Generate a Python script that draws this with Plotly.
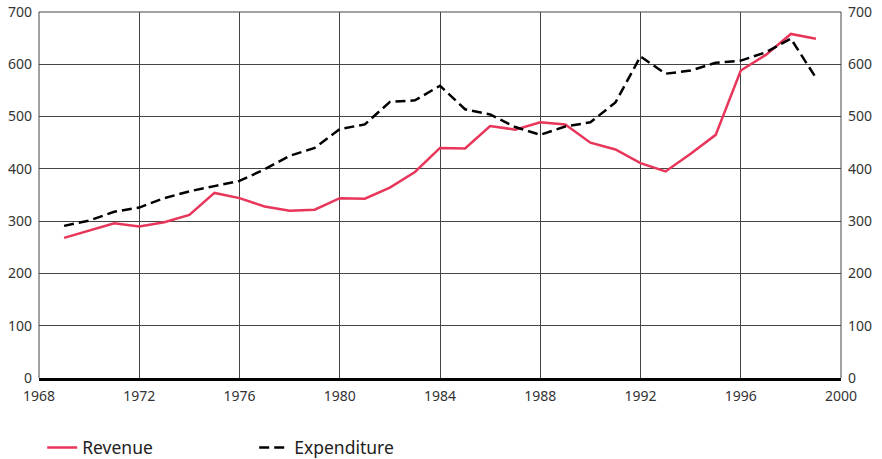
import plotly.graph_objects as go

years = list(range(1969, 2000))
revenue = [268, 282, 296, 290, 298, 312, 354, 344, 328, 320, 322, 344, 343, 364, 394, 440,
           439, 482, 475, 489, 485, 450, 437, 411, 395, 429, 465, 588, 618, 658, 649]
expenditure = [291, 301, 318, 326, 344, 357, 367, 377, 399, 425, 440, 476, 485, 528, 531, 559,
               514, 504, 480, 465, 481, 489, 527, 615, 582, 588, 603, 607, 623, 649, 574]
x_ticks = [1968, 1972, 1976, 1980, 1984, 1988, 1992, 1996, 2000]
y_ticks = [0, 100, 200, 300, 400, 500, 600, 700]

FONT = "Noto Sans"
RED = "#E8365A"
GRID = "#444"
TXT = "#333"

fig = go.Figure()
fig.add_trace(go.Scatter(x=years, y=revenue, mode="lines", name="Revenue",
                         line=dict(color=RED, width=2.5)))
fig.add_trace(go.Scatter(x=years, y=expenditure, mode="lines", name="Expenditure",
                         line=dict(color="black", width=2.5, dash="10px,5px")))
# invisible trace to drive the right axis
fig.add_trace(go.Scatter(x=[x_ticks[0]], y=[y_ticks[0]], yaxis="y2", mode="markers",
                         marker=dict(opacity=0), showlegend=False, hoverinfo="skip"))

# frame lines (top, left, right) of the plotting area
for x0, y0, x1, y1 in [(0, 1, 1, 1), (0, 0, 0, 1), (1, 0, 1, 1)]:
    fig.add_shape(type="line", xref="x domain", yref="y domain", x0=x0, y0=y0, x1=x1, y1=y1,
                  line=dict(color=GRID, width=1), layer="below")

fig.update_layout(
    width=882, height=459,
    margin=dict(l=39, r=41, t=12, b=81, autoexpand=False),
    paper_bgcolor="white", plot_bgcolor="white",
    font=dict(family=FONT, size=13, color=TXT),
    xaxis=dict(range=[1968, 2000], tickvals=x_ticks, showgrid=True, gridcolor=GRID, gridwidth=1,
               showline=True, linecolor="black", linewidth=3, ticks="", zeroline=False,
               tickfont=dict(size=14, color=TXT), ticklabelstandoff=3, automargin=False),
    yaxis=dict(range=[0, 700], tickvals=y_ticks, showgrid=True, gridcolor=GRID, gridwidth=1,
               zeroline=False, showline=False, ticks="", tickfont=dict(size=14, color=TXT),
               ticklabelstandoff=6, automargin=False),
    yaxis2=dict(range=[0, 700], tickvals=y_ticks, overlaying="y", side="right", showgrid=False,
                zeroline=False, showline=False, ticks="", tickfont=dict(size=14, color=TXT),
                ticklabelstandoff=6, automargin=False),
    legend=dict(orientation="h", x=0.004, xanchor="left", y=-0.19, yanchor="middle",
                font=dict(size=17.5, color="#222"), entrywidth=167, entrywidthmode="pixels",
                bgcolor="rgba(0,0,0,0)"),
    showlegend=True,
)

fig.write_html("out.html", config={"displayModeBar": False},
               post_script="document.body.style.margin='0';")
